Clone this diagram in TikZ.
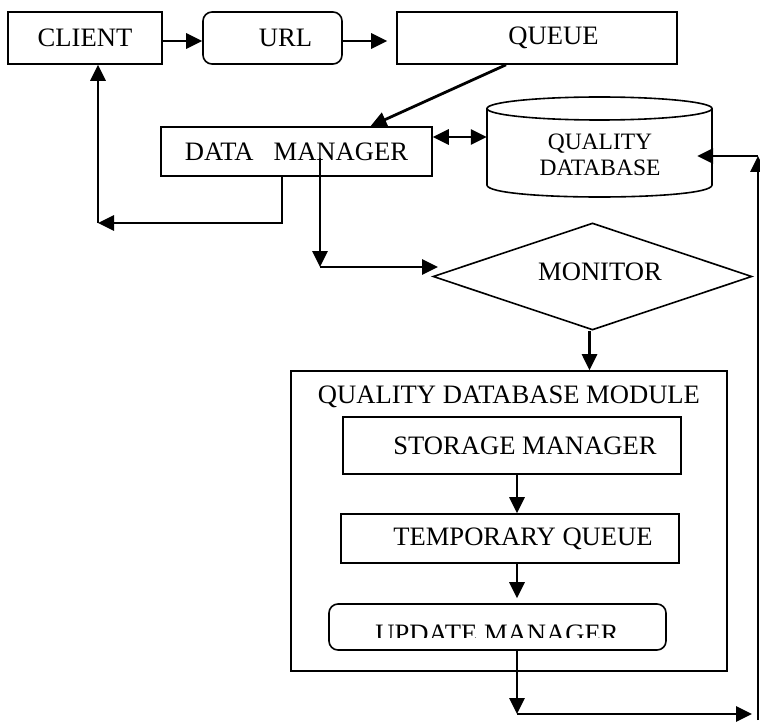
\documentclass[tikz,border=0pt]{standalone}
\usepackage{fontspec}
\setmainfont{Liberation Serif}
\usetikzlibrary{arrows.meta,shapes.geometric}
\begin{document}
\begin{tikzpicture}[x=1pt,y=-1pt,
  box/.style={draw,line width=1.6pt,inner sep=0pt,font=\fontsize{26.6}{30}\selectfont},
  rbox/.style={box,rounded corners=9pt},
  txt/.style={inner sep=0pt,font=\fontsize{26.6}{30}\selectfont},
  conn/.style={line width=2.8pt},
  arr/.style={conn,-{Triangle[length=16pt,width=15pt]}},
  darr/.style={conn,{Triangle[length=16pt,width=15pt]}-{Triangle[length=16pt,width=15pt]}},
]
\useasboundingbox (0,0) rectangle (760,722);

% top row
\node[box,minimum width=154pt,minimum height=52pt] (client) at (85,38) {CLIENT};
\node[rbox,minimum width=139pt,minimum height=52pt] (url) at (272.5,38) {\hspace{26pt}URL};
\node[box,minimum width=280pt,minimum height=52pt] (queue) at (537,38) {\hspace{33pt}QUEUE};

% data manager
\node[box,minimum width=271pt,minimum height=49pt] (dm) at (296.5,151.5) {DATA\hspace{20pt}MANAGER};

% quality database cylinder
\node[minimum width=225pt,minimum height=100pt,inner sep=0pt] (db) at (599.5,147) {};
\draw[line width=1.6pt] (599.5,108.5) ellipse [x radius=112.5,y radius=11.5];
\draw[line width=1.6pt] (487,108.5) -- (487,185) .. controls (487,201) and (712,201) .. (712,185) -- (712,108.5);
\node[inner sep=0pt,align=center,font=\fontsize{23.5}{26}\selectfont] (dbt) at (600,155) {QUALITY\\DATABASE};

% monitor
\node[draw,diamond,line width=1.6pt,minimum width=319pt,minimum height=107pt,inner sep=0pt] (mon) at (592.5,276.5) {};
\node[txt] (mont) at (600,272) {MONITOR};

% module
\node[box,minimum width=436pt,minimum height=300pt] (mod) at (509,521) {};
\node[txt] (modt) at (509,397) {QUALITY DATABASE MODULE};
\node[box,minimum width=338pt,minimum height=57pt] (sm) at (512,445.5) {\hspace{26pt}STORAGE MANAGER};
\node[box,minimum width=338pt,minimum height=49pt] (tq) at (510,538.5) {\hspace{26pt}TEMPORARY QUEUE};
\node[rbox,minimum width=337pt,minimum height=46pt] (um) at (497.5,627) {};
\begin{scope}
  \clip (329,600) rectangle (667,637.5);
  \node[txt,anchor=base] (umt) at (497,642) {UPDATE MANAGER};
\end{scope}

% connectors
\draw[arr] ([yshift=-3pt]client.east) -- ([yshift=-3pt]url.west);
\draw[arr,shorten >=9pt] ([yshift=-3pt]url.east) -- ([yshift=-3pt]queue.west);
\draw[arr] ([xshift=-31pt]queue.south) -- ([xshift=74pt]dm.north);
\draw[darr] ([yshift=14.5pt]dm.east) -- ([yshift=14.5pt]dm.east -| db.west);

\coordinate (c1) at (98,223);
\draw[arr] ([xshift=-14.5pt]dm.south) |- (c1);
\draw[arr] (c1) -- (c1 |- client.south);

\coordinate (c2) at (320,158);
\coordinate (c3) at (320,267);
\coordinate (c3b) at (438,267);
\draw[arr] (c2) -- (c3);
\draw[arr] (c3) -- (c3b);

\draw[arr] ([xshift=-3pt]mon.south) -- ([xshift=-3pt]mon.south |- mod.north);

\coordinate (xc) at (517,0);
\draw[arr] (sm.south -| xc) -- (tq.north -| xc);
\draw[arr,shorten >=5pt] (tq.south -| xc) -- (um.north -| xc);

\coordinate (c4) at (517,714);
\coordinate (c5) at (752,714);
\coordinate (c6) at (758,720);
\coordinate (c7) at (758,156);
\draw[arr] (um.south -| xc) -- (c4);
\draw[arr] (c4) -- (c5);
\draw[arr] (c6) -- (c7);
\draw[arr,shorten >=-15pt] (c7) -- (c7 -| db.east);
\end{tikzpicture}
\end{document}
